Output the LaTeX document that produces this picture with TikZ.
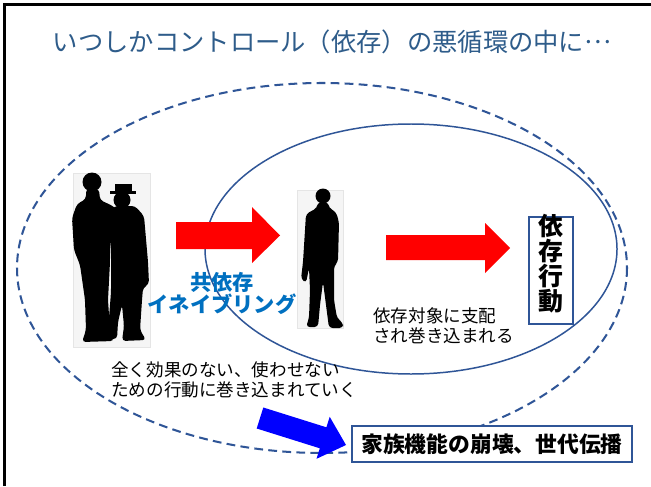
\documentclass[tikz,border=0pt]{standalone}
\usepackage{fontspec}
\setmainfont{Noto Sans CJK JP}
\definecolor{navy}{HTML}{2F5597}
\definecolor{titleblue}{HTML}{2E5C8A}
\definecolor{codepblue}{HTML}{0070C0}
\begin{document}
\begin{tikzpicture}[x=0.02cm,y=-0.02cm,
  outline/.style={draw=navy, line width=0.85pt},
  loopline/.style={draw=navy, line width=1.15pt, dash pattern=on 5pt off 3pt},
  photo/.style={fill=black!4, draw=black!10, inner sep=0pt},
  caption/.style={align=left, font=\fontsize{10pt}{11.4pt}\selectfont, inner sep=0pt}]
\useasboundingbox (0,0) rectangle (651,486);
\fill[white] (0,0) rectangle (651,486);
\draw[line width=1.7pt] (4.5,486) -- (4.5,4.5) -- (651,4.5);

\node[text=titleblue, font=\fontsize{14.4pt}{16pt}\selectfont] (title) at (332,42)
  {いつしかコントロール（依存）の悪循環の中に\raisebox{0.32em}{…}};

% the two loops
\draw[loopline] (322,268) ellipse (305 and 185);
\draw[outline] (411,249) ellipse (206 and 125);

% couple
\node[photo, minimum width=1.54cm, minimum height=3.48cm] (pair) at (111.5,260) {};
\fill (92,182) circle (9.5);
\fill[rounded corners=2] (86,189) -- (99,189) -- (100,200) -- (113,206) -- (122,215) -- (118,224)
  -- (110,224) -- (110,262) -- (108,300) -- (110,330) -- (114,341) -- (82,342) -- (86,330)
  -- (85,300) -- (80,265) -- (74,250) -- (72,218) -- (77,204) -- (86,199) -- cycle;
\fill (122,200) circle (8.5);
\fill (110,191) rectangle (136,194);
\fill (115,184) rectangle (132,192);
\fill[rounded corners=2] (114,206) -- (135,206) -- (144,216) -- (148,262) -- (149,284) -- (143,288)
  -- (142,300) -- (140,330) -- (146,340) -- (122,341) -- (124,326) -- (122,305) -- (118,322)
  -- (117,339) -- (102,339) -- (109,318) -- (111,292) -- (111,250) -- (108,222) -- cycle;

% the one who is caught
\node[photo, minimum width=0.92cm, minimum height=2.76cm] (single) at (320,259) {};
\fill (323,196) circle (7.5);
\fill[rounded corners=2] (318,202) -- (328,202) -- (329,208) -- (336,212) -- (339,222) -- (338,262)
  -- (334,266) -- (334,300) -- (337,318) -- (343,323) -- (343,328) -- (329,328) -- (326,305)
  -- (323,282) -- (320,305) -- (318,327) -- (306,327) -- (309,318) -- (310,290) -- (309,268)
  -- (306,283) -- (301,279) -- (303,262) -- (306,214) -- (317,208) -- cycle;

\node[draw=navy, line width=0.6pt, minimum width=0.88cm, minimum height=2.14cm, inner sep=0pt,
  label={[align=center, inner sep=0pt, yshift=0.14cm,
    font=\fontsize{14.2pt}{14.2pt}\selectfont\bfseries]center:依\\存\\行\\動}] (habit) at (551,270.5) {};

\node[draw=navy, line width=1.1pt, fill=white, minimum width=5.6cm, minimum height=0.72cm, inner sep=0pt,
  font=\fontsize{12.4pt}{14pt}\selectfont\bfseries] (chain) at (492,444)
  {家族機能の崩壊、世代伝播};

\node[align=center, text=codepblue, inner sep=0pt,
  font=\fontsize{12.1pt}{13pt}\selectfont\bfseries] (codep) at (222,293.5)
  {共依存\\イネイブリング};

\node[caption, anchor=north west] (caught) at (373,307) {依存対象に支配\\され巻き込まれる};
\node[caption, anchor=north west] (futile) at (111,361) {全く効果のない、使わせない\\ための行動に巻き込まれていく};

% block arrows
\fill[red] (176,222) -- (252,222) -- (252,207) -- (280,235.5) -- (252,263) -- (252,249) -- (176,249) -- cycle;
\fill[red] (386,235) -- (485,235) -- (485,223) -- (510,248) -- (485,273) -- (485,260) -- (386,260) -- cycle;
\fill[blue] (263.3,407.5) -- (326.4,427.3) -- (329.7,416.8) -- (346,445) -- (316.5,458.8)
  -- (319.8,448.3) -- (256.7,428.5) -- cycle;
\end{tikzpicture}
\end{document}
